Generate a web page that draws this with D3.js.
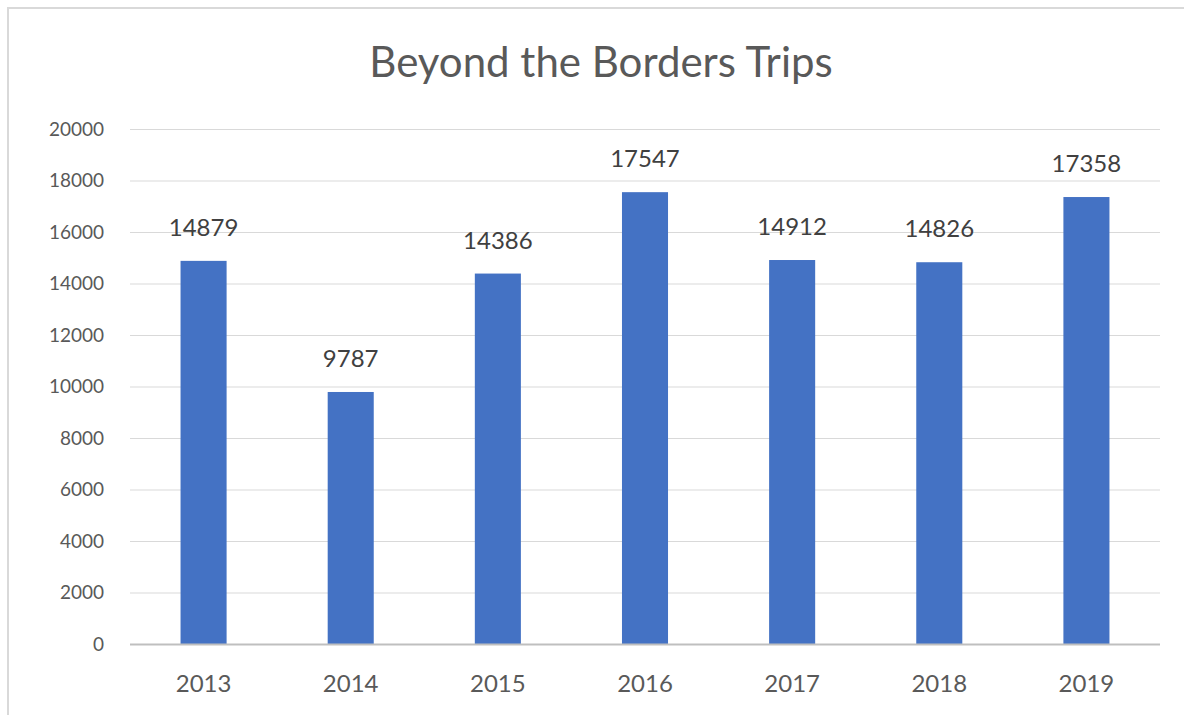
<!DOCTYPE html>
<html>
<head>
    <meta charset="utf-8">
    <title>Beyond the Borders Trips</title>
    <script src="https://d3js.org/d3.v7.min.js"></script>
    <style>
        body { margin: 0; background: #fff; }
        text { font-family: Lato, "Open Sans", sans-serif; }
    </style>
</head>
<body>
<div id="chart"></div>
<script type="text/javascript">
    // data
    let years = ["2013", "2014", "2015", "2016", "2017", "2018", "2019"];
    let trips = [14879, 9787, 14386, 17547, 14912, 14826, 17358];
    let yTicks = [0, 2000, 4000, 6000, 8000, 10000, 12000, 14000, 16000, 18000, 20000];

    let width = 1184, height = 715;
    let plotLeft = 130, plotRight = 1160, plotTop = 129, plotBottom = 644;

    let svg = d3.select("#chart").append("svg")
        .attr("width", width)
        .attr("height", height);

    // chart frame
    svg.append("rect")
        .attr("x", 8).attr("y", 8)
        .attr("width", width + 10).attr("height", height + 10)
        .attr("fill", "none")
        .attr("stroke", "#d9d9d9")
        .attr("stroke-width", 2);

    svg.append("text")
        .attr("x", 601)
        .attr("y", 77)
        .attr("text-anchor", "middle")
        .attr("font-size", 42)
        .attr("fill", "#595959")
        .text("Beyond the Borders Trips");

    let x = d3.scaleBand().domain(years).range([plotLeft, plotRight]).paddingInner(0.687).paddingOuter(0.3435);
    let y = d3.scaleLinear().domain([0, 20000]).range([plotBottom, plotTop]);

    // gridlines
    svg.append("g").selectAll("line")
        .data(yTicks.slice(1))
        .enter().append("line")
        .attr("x1", plotLeft).attr("x2", plotRight)
        .attr("y1", d => y(d) + 0.5).attr("y2", d => y(d) + 0.5)
        .attr("stroke", "#d9d9d9")
        .attr("stroke-width", 1);

    // y labels
    svg.append("g").selectAll("text")
        .data(yTicks)
        .enter().append("text")
        .attr("x", 104)
        .attr("y", d => y(d))
        .attr("dy", "0.35em")
        .attr("text-anchor", "end")
        .attr("font-size", 19)
        .attr("fill", "#595959")
        .text(d => d);

    // bars
    svg.append("g").selectAll("rect")
        .data(trips)
        .enter().append("rect")
        .attr("x", (d, i) => x(years[i]))
        .attr("y", d => y(d))
        .attr("width", x.bandwidth())
        .attr("height", d => y(0) - y(d))
        .attr("fill", "#4472c4");

    // baseline axis
    svg.append("line")
        .attr("x1", plotLeft).attr("x2", plotRight)
        .attr("y1", plotBottom + 0.5).attr("y2", plotBottom + 0.5)
        .attr("stroke", "#bfbfbf")
        .attr("stroke-width", 2);

    // data labels
    svg.append("g").selectAll("text")
        .data(trips)
        .enter().append("text")
        .attr("x", (d, i) => x(years[i]) + x.bandwidth() / 2)
        .attr("y", d => y(d) - 25)
        .attr("text-anchor", "middle")
        .attr("font-size", 24)
        .attr("fill", "#404040")
        .text(d => d);

    // x labels
    svg.append("g").selectAll("text")
        .data(years)
        .enter().append("text")
        .attr("x", d => x(d) + x.bandwidth() / 2)
        .attr("y", 692)
        .attr("text-anchor", "middle")
        .attr("font-size", 24)
        .attr("fill", "#595959")
        .text(d => d);
</script>
</body>
</html>
